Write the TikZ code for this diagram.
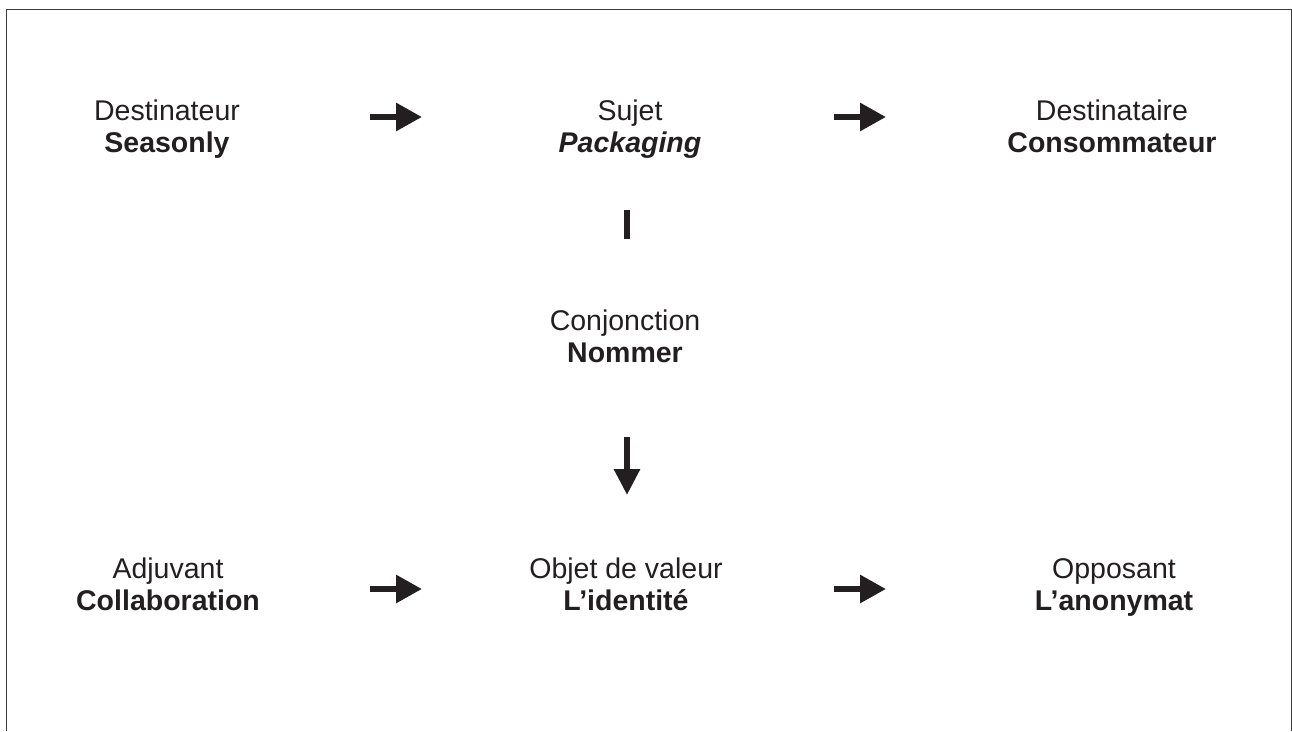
\documentclass[tikz,border=0pt]{standalone}
\usepackage{fontspec}
\setmainfont{Liberation Sans}
\usetikzlibrary{arrows.meta}
\definecolor{ink}{HTML}{231F20}
\definecolor{framec}{HTML}{3A3A3A}
\begin{document}
\begin{tikzpicture}[x=1pt,y=-1pt,
  lbl/.style={align=center,anchor=base,inner sep=0pt,text=ink,
    font=\fontsize{28.5pt}{31.5pt}\selectfont},
  harrow/.style={draw=ink,line width=6pt,-{Triangle[length=26pt,width=27pt]},fill=ink},
  varrow/.style={draw=ink,line width=6pt,-{Triangle[length=26pt,width=25pt]},fill=ink},
  bar/.style={draw=ink,line width=6pt}]
\useasboundingbox (0,0) rectangle (1292,731);
\draw[framec,line width=1.5pt] (6.5,731) -- (6.5,9.5) -- (1291.5,9.5) -- (1291.5,731);
% labels (anchor = baseline of the last line)
\node[lbl] (dest)  at (167,152) {Destinateur\\\textbf{Seasonly}};
\node[lbl] (suj)   at (630,152) {Sujet\\\textbf{\textit{Packaging}}};
\node[lbl] (desti) at (1112,152) {Destinataire\\\textbf{Consommateur}};
\node[lbl] (conj)  at (625,362) {Conjonction\\\textbf{Nommer}};
\node[lbl] (adj)   at (168,610) {Adjuvant\\\textbf{Collaboration}};
\node[lbl] (obj)   at (626,610) {Objet de valeur\\\textbf{L’identité}};
\node[lbl] (opp)   at (1114,610) {Opposant\\\textbf{L’anonymat}};
% connector end points
\coordinate (a1s) at (370,117); \coordinate (a1e) at (422,117);
\coordinate (a2s) at (834,117); \coordinate (a2e) at (886,117);
\coordinate (b1s) at (370,589); \coordinate (b1e) at (422,589);
\coordinate (b2s) at (834,589); \coordinate (b2e) at (886,589);
\coordinate (vbs) at (627,210); \coordinate (vbe) at (627,239);
\coordinate (vas) at (627,437); \coordinate (vae) at (627,495);
% connectors
\draw[harrow] (a1s) -- (a1e);
\draw[harrow] (a2s) -- (a2e);
\draw[harrow] (b1s) -- (b1e);
\draw[harrow] (b2s) -- (b2e);
\draw[bar] (vbs) -- (vbe);
\draw[varrow] (vas) -- (vae);
\end{tikzpicture}
\end{document}
